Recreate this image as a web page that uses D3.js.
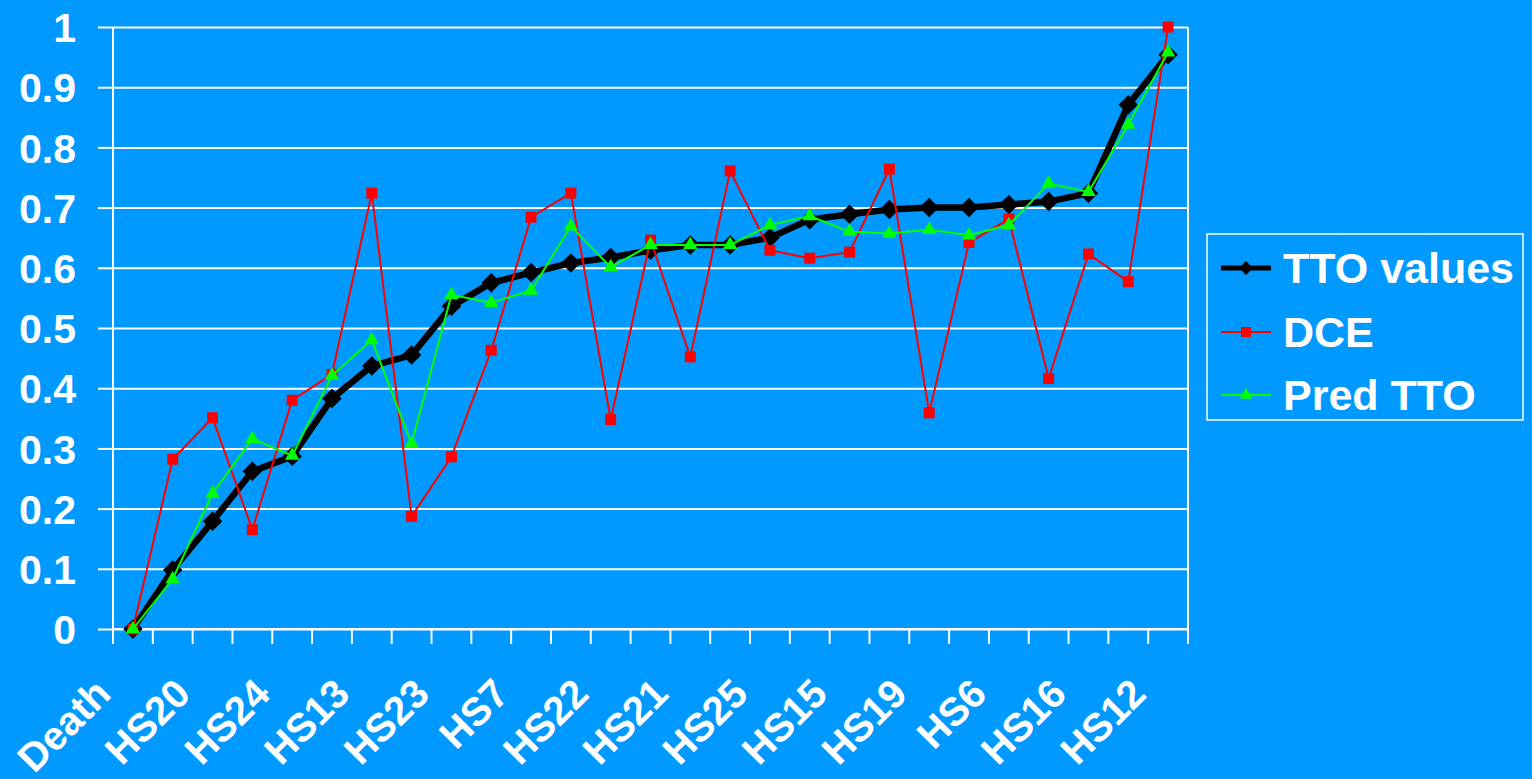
<!DOCTYPE html>
<html>
<head>
<meta charset="utf-8">
<script src="https://cdn.jsdelivr.net/npm/d3@7"></script>
<style>
  html, body { margin: 0; padding: 0; background: #0099ff; }
  svg { display: block; }
  text { font-family: "Liberation Sans", Arial, sans-serif; font-weight: bold; fill: #ffffff; }
</style>
</head>
<body>
<svg id="chart" width="1532" height="779"></svg>
<script>
// Health states ordered by mean TTO value
const categories = [
  "Death", "HS1", "HS20", "HS2", "HS24", "HS3", "HS13", "HS4", "HS23", "HS5",
  "HS7", "HS8", "HS22", "HS9", "HS21", "HS10", "HS25", "HS11", "HS15", "HS14",
  "HS19", "HS17", "HS6", "HS18", "HS16", "HS26", "HS12"
];

const ttoValues = [
  0, 0.098, 0.179, 0.262, 0.287, 0.383, 0.437, 0.455, 0.536, 0.575,
  0.592, 0.608, 0.617, 0.629, 0.638, 0.638, 0.650, 0.680, 0.689, 0.697,
  0.700, 0.700, 0.705, 0.710, 0.724, 0.871, 0.954
];

const dceValues = [
  0, 0.282, 0.351, 0.165, 0.380, 0.423, 0.724, 0.187, 0.286, 0.463,
  0.684, 0.724, 0.348, 0.646, 0.452, 0.761, 0.629, 0.616, 0.626, 0.764,
  0.359, 0.642, 0.681, 0.416, 0.623, 0.577, 1.0
];

const predTtoValues = [
  0, 0.083, 0.225, 0.316, 0.288, 0.421, 0.480, 0.308, 0.555, 0.542,
  0.562, 0.669, 0.601, 0.638, 0.638, 0.638, 0.671, 0.686, 0.660, 0.657,
  0.663, 0.654, 0.671, 0.740, 0.726, 0.838, 0.958
];

const yTicks = [0, 0.1, 0.2, 0.3, 0.4, 0.5, 0.6, 0.7, 0.8, 0.9, 1];
const seriesNames = ["TTO values", "DCE", "Pred TTO"];

const svg = d3.select("#chart");
const plot = { left: 113, right: 1188, top: 27, bottom: 629 };

const x = d3.scaleBand().domain(categories).range([plot.left, plot.right]).paddingInner(0).paddingOuter(0);
const y = d3.scaleLinear().domain([0, 1]).range([plot.bottom, plot.top]);
const cx = d => x(d) + x.bandwidth() / 2;

// Background
svg.append("rect").attr("width", 1532).attr("height", 779).attr("fill", "#0099ff");

// Horizontal gridlines + y axis
const yAxis = d3.axisLeft(y)
  .tickValues(yTicks)
  .tickSize(-(plot.right - plot.left))
  .tickPadding(0)
  .tickFormat(d => d3.format("~g")(d));
const gy = svg.append("g").attr("transform", `translate(${plot.left},0)`).call(yAxis);
gy.select(".domain").remove();
gy.selectAll(".tick line").attr("stroke", "#ffffff").attr("stroke-width", 2);
gy.selectAll(".tick")
  .append("line")
  .attr("x1", -15).attr("x2", 0)
  .attr("stroke", "#ffffff").attr("stroke-width", 2);
gy.selectAll(".tick text")
  .attr("x", -37)
  .attr("dy", "0.36em")
  .attr("text-anchor", "end")
  .style("font-size", "41px")
  .attr("fill", "#ffffff");

// Plot frame: left axis and right edge
svg.append("line").attr("x1", plot.left).attr("x2", plot.left)
  .attr("y1", plot.top).attr("y2", plot.bottom)
  .attr("stroke", "#ffffff").attr("stroke-width", 2);
svg.append("line").attr("x1", plot.right).attr("x2", plot.right)
  .attr("y1", plot.top).attr("y2", plot.bottom)
  .attr("stroke", "#ffffff").attr("stroke-width", 2);

// X axis: boundary ticks between categories
const boundaries = categories.map(c => x(c)).concat([plot.right]);
const gx = svg.append("g");
gx.append("line")
  .attr("x1", plot.left).attr("x2", plot.right)
  .attr("y1", plot.bottom).attr("y2", plot.bottom)
  .attr("stroke", "#ffffff").attr("stroke-width", 2);
gx.selectAll("line.bt").data(boundaries).enter().append("line")
  .attr("class", "bt")
  .attr("x1", d => d).attr("x2", d => d)
  .attr("y1", plot.bottom).attr("y2", plot.bottom + 15)
  .attr("stroke", "#ffffff").attr("stroke-width", 2);

// Category labels (every other state), rotated
const labelled = categories.filter((c, i) => i % 2 === 0);
gx.selectAll("text.cat").data(labelled).enter().append("text")
  .attr("class", "cat")
  .attr("transform", d => `translate(${cx(d) - 20},${plot.bottom + 67}) rotate(-45)`)
  .attr("text-anchor", "end")
  .style("font-size", "40px")
  .text(d => d);

// Series
const series = [
  { name: seriesNames[0], values: ttoValues, color: "#000000", width: 6.5, marker: "diamond" },
  { name: seriesNames[1], values: dceValues, color: "#ff0000", width: 2, marker: "square" },
  { name: seriesNames[2], values: predTtoValues, color: "#00ff00", width: 2, marker: "triangle" }
];

const markerPath = {
  diamond: d3.symbol().type(d3.symbolSquare).size(190)(),
  square: d3.symbol().type(d3.symbolSquare).size(120)(),
  triangle: d3.symbol().type(d3.symbolTriangle).size(90)()
};

const line = d3.line().x(d => cx(d.c)).y(d => y(d.v));

series.forEach(s => {
  const pts = categories.map((c, i) => ({ c, v: s.values[i] }));
  const g = svg.append("g");
  g.append("path").datum(pts)
    .attr("d", line)
    .attr("fill", "none")
    .attr("stroke", s.color)
    .attr("stroke-width", s.width)
    .attr("stroke-linejoin", "miter");
  g.selectAll("path.m").data(pts).enter().append("path")
    .attr("class", "m")
    .attr("d", markerPath[s.marker])
    .attr("transform", d => `translate(${cx(d.c)},${y(d.v)})` + (s.marker === "diamond" ? " rotate(45)" : ""))
    .attr("fill", s.color);
});

// Legend
const legend = svg.append("g");
legend.append("rect")
  .attr("x", 1207).attr("y", 234).attr("width", 316).attr("height", 186)
  .attr("fill", "none").attr("stroke", "#ffffff").attr("stroke-width", 1.5);
const rowY = [268, 332, 395];
const legendMarker = {
  diamond: d3.symbol().type(d3.symbolSquare).size(95)(),
  square: d3.symbol().type(d3.symbolSquare).size(100)(),
  triangle: d3.symbol().type(d3.symbolTriangle).size(70)()
};
series.forEach((s, i) => {
  const row = legend.append("g").attr("transform", `translate(0,${rowY[i]})`);
  row.append("line").attr("x1", 1221).attr("x2", 1271)
    .attr("stroke", s.color).attr("stroke-width", s.width > 3 ? 5 : 2);
  row.append("path")
    .attr("d", legendMarker[s.marker])
    .attr("transform", `translate(1246,0)` + (s.marker === "diamond" ? " rotate(45)" : ""))
    .attr("fill", s.color);
  row.append("text")
    .attr("x", 1283).attr("dy", "0.36em")
    .style("font-size", "43px")
    .text(s.name);
});
</script>
</body>
</html>
